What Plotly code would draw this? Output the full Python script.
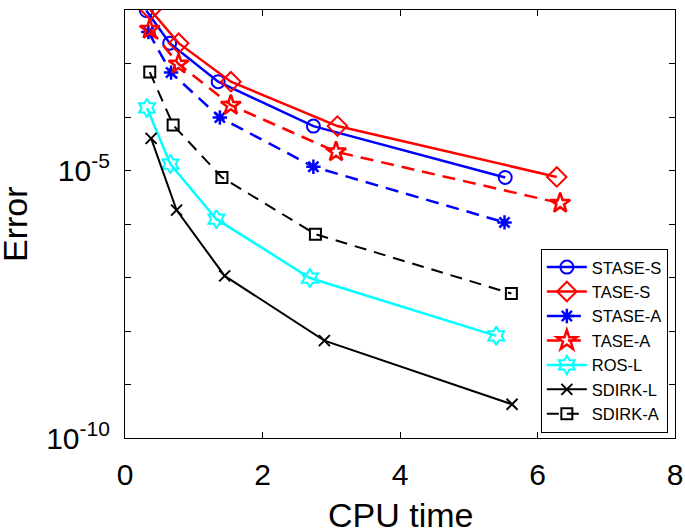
import plotly.graph_objects as go

# Data (log10 of error vs CPU time)
stase_s_x = [0.31, 0.65, 1.355, 2.74, 5.53]
stase_s_y = [-2.01, -2.62, -3.34, -4.17, -5.13]
tase_s_x = [0.37, 0.78, 1.54, 3.09, 6.28]
tase_s_y = [-2.00, -2.62, -3.34, -4.17, -5.12]
stase_a_x = [0.34, 0.67, 1.38, 2.74, 5.52]
stase_a_y = [-2.41, -3.17, -4.01, -4.93, -5.97]
tase_a_x = [0.36, 0.78, 1.54, 3.07, 6.33]
tase_a_y = [-2.36, -3.01, -3.78, -4.65, -5.61]
ros_l_x = [0.32, 0.66, 1.33, 2.69, 5.40]
ros_l_y = [-3.83, -4.88, -5.91, -7.01, -8.09]
sdirk_l_x = [0.38, 0.75, 1.45, 2.90, 5.63]
sdirk_l_y = [-4.40, -5.74, -6.97, -8.18, -9.37]
sdirk_a_x = [0.36, 0.70, 1.41, 2.77, 5.62]
sdirk_a_y = [-3.16, -4.15, -5.13, -6.19, -7.30]

x_ticks = [0, 2, 4, 6, 8]
y_major = [-10, -5]
y_major_labels = ["10<sup>-10</sup>", "10<sup>-5</sup>"]

series = [
    ("STASE-S", stase_s_x, stase_s_y, "blue", "solid", "circle-open", 13, 2),
    ("TASE-S", tase_s_x, tase_s_y, "red", "solid", "diamond-open", 15, 2),
    ("STASE-A", stase_a_x, stase_a_y, "blue", "13px,8px", "asterisk-open", 12, 2.5),
    ("TASE-A", tase_a_x, tase_a_y, "red", "13px,8px", "star-open", 15, 2.5),
    ("ROS-L", ros_l_x, ros_l_y, "cyan", "solid", "hexagram-open", 14, 2),
    ("SDIRK-L", sdirk_l_x, sdirk_l_y, "black", "solid", "x-thin-open", 11, 2),
    ("SDIRK-A", sdirk_a_x, sdirk_a_y, "black", "12px,8px", "square-open", 11, 2),
]

fig = go.Figure()
for name, xs, ys, color, dash, sym, size, mlw in series:
    fig.add_trace(go.Scatter(
        x=xs, y=[10 ** v for v in ys], name=name, mode="lines+markers",
        line=dict(color=color, width=2.5 if color != "black" else 2, dash=dash),
        marker=dict(symbol=sym, size=size, color=color,
                    line=dict(color=color, width=mlw)),
    ))

fig.update_layout(
    width=685, height=530,
    margin=dict(l=124.5, r=10, t=10, b=92),
    paper_bgcolor="white", plot_bgcolor="white",
    font=dict(family="Liberation Sans, Arial, sans-serif", color="black"),
    legend=dict(x=0.987, y=0.012, xanchor="right", yanchor="bottom",
                bgcolor="white", bordercolor="black", borderwidth=1,
                font=dict(size=16.5), tracegroupgap=0, itemwidth=40),
    annotations=[
        dict(text="CPU time", xref="paper", yref="paper", x=0.5, y=-0.18,
             xanchor="center", yanchor="middle", showarrow=False,
             font=dict(size=34)),
        dict(text="Error", xref="paper", yref="paper", x=-0.2, y=0.5,
             xanchor="center", yanchor="middle", textangle=-90, showarrow=False,
             font=dict(size=34)),
    ],
)
fig.update_xaxes(
    range=[0, 8], tickvals=x_ticks, ticktext=[str(v) for v in x_ticks],
    ticks="inside", ticklen=6, tickcolor="black", mirror="allticks",
    showline=True, linecolor="black", linewidth=1.2, showgrid=False, zeroline=False,
    tickfont=dict(size=30), automargin=False, ticklabelstandoff=10,
)
fig.update_yaxes(
    type="log", range=[-10, -2],
    tickvals=[10 ** d for d in y_major], ticktext=y_major_labels,
    ticks="inside", ticklen=6, tickcolor="black", mirror="allticks",
    minor=dict(ticks="inside", ticklen=6, dtick=1, tickcolor="black", showgrid=False),
    showline=True, linecolor="black", linewidth=1.2, showgrid=False, zeroline=False,
    tickfont=dict(size=30), automargin=False, ticklabelstandoff=8,
)

fig.write_html("out.html", config={"displayModeBar": False},
               post_script="document.body.style.margin='0';document.body.style.overflow='hidden';")
